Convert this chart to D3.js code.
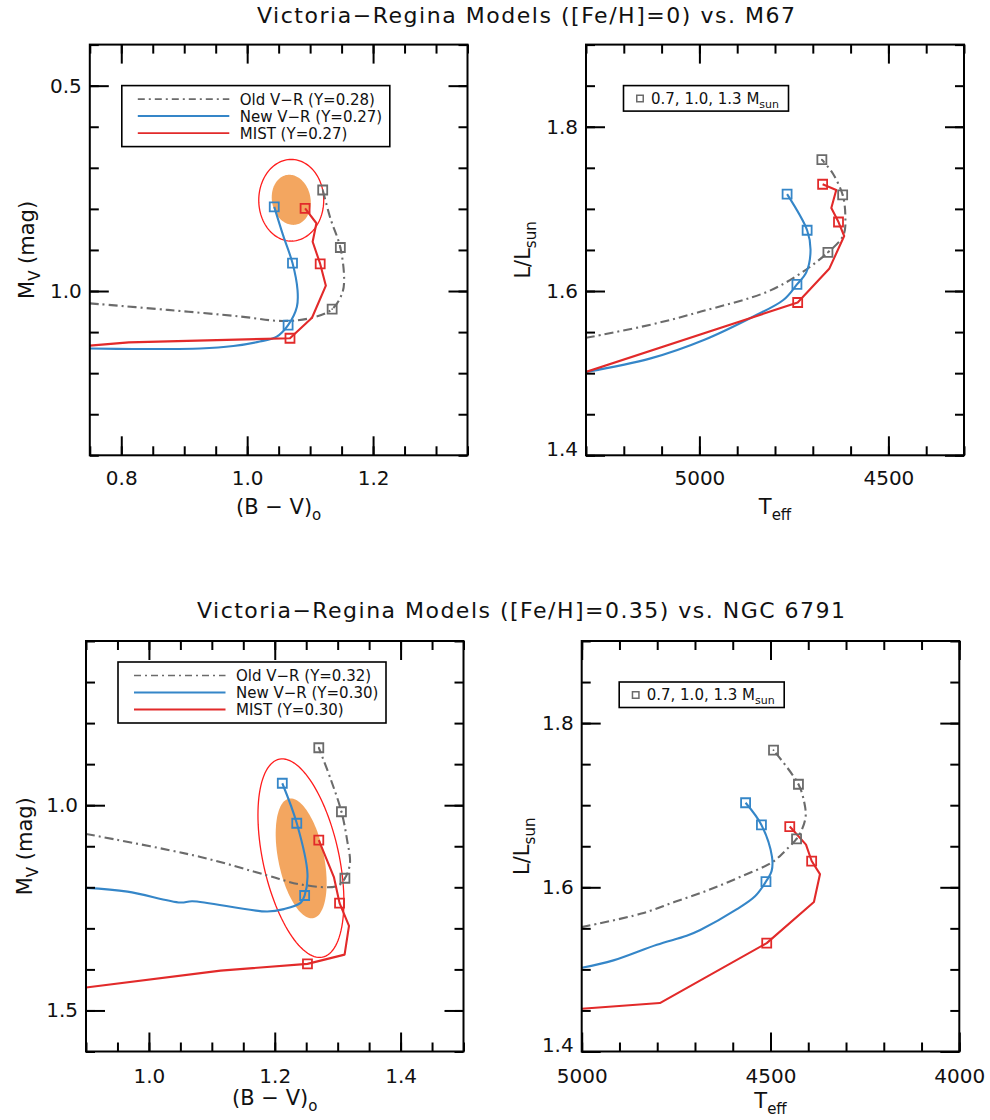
<!DOCTYPE html>
<html><head><meta charset="utf-8">
<script src="https://cdn.jsdelivr.net/npm/d3@7"></script>
<style>
body{margin:0;background:#fff}
svg{display:block}
text{font-family:"DejaVu Sans",sans-serif;fill:#111}
</style>
</head><body>
<svg id="c" width="990" height="1120"></svg>
<script>
// ---------------- DATA ----------------
const titles = ["Victoria\u2212Regina Models ([Fe/H]=0) vs. M67",
                "Victoria\u2212Regina Models ([Fe/H]=0.35) vs. NGC 6791"];
const legendTop = ["Old V\u2212R (Y=0.28)", "New V\u2212R (Y=0.27)", "MIST (Y=0.27)"];
const legendBot = ["Old V\u2212R (Y=0.32)", "New V\u2212R (Y=0.30)", "MIST (Y=0.30)"];
const massLegend = "0.7, 1.0, 1.3 M";

// Top-left: (B-V)0 vs Mv, [Fe/H]=0
const tlOld  = [[0.75,1.030],[0.874,1.046],[0.989,1.062],[1.057,1.073],[1.103,1.065],[1.135,1.044],[1.151,1.005],[1.154,0.973],[1.148,0.894],[1.132,0.822],[1.120,0.754]];
const tlOldMk = [[1.120,0.754],[1.148,0.894],[1.135,1.044]];
const tlNew  = [[0.75,1.140],[0.819,1.141],[0.925,1.140],[0.978,1.134],[1.020,1.123],[1.047,1.111],[1.065,1.083],[1.079,1.038],[1.080,0.998],[1.072,0.932],[1.057,0.864],[1.043,0.795]];
const tlNewMk = [[1.043,0.795],[1.072,0.932],[1.065,1.083]];
const tlMist = [[0.75,1.133],[0.812,1.125],[1.068,1.115],[1.103,1.065],[1.125,0.987],[1.116,0.934],[1.104,0.880],[1.110,0.835],[1.092,0.799]];
const tlMistMk = [[1.092,0.799],[1.116,0.934],[1.068,1.115]];
// observed clump: [centre x, centre y, half-width x, half-height y, correlation]
const tlClump1 = [1.070, 0.778, 0.031, 0.061, 0.1];
const tlClump2 = [1.070, 0.779, 0.0516, 0.0994, 0.0];

// Top-right: Teff vs L/Lsun, [Fe/H]=0
const trOld  = [[5300,1.543],[5129,1.559],[4996,1.575],[4821,1.599],[4734,1.621],[4660,1.647],[4619,1.668],[4614,1.692],[4621,1.717],[4647,1.743],[4676,1.760]];
const trOldMk = [[4676,1.760],[4621,1.717],[4660,1.647]];
const trNew  = [[5300,1.5015],[5129,1.518],[4985,1.541],[4857,1.569],[4778,1.589],[4742,1.608],[4717,1.623],[4706,1.650],[4715,1.674],[4768,1.718]];
const trNewMk = [[4768,1.718],[4715,1.674],[4742,1.608]];
const trMist = [[5300,1.5015],[4740,1.586],[4656,1.6275],[4617,1.667],[4632,1.684],[4651,1.701],[4638,1.723],[4674,1.730]];
const trMistMk = [[4674,1.730],[4632,1.684],[4740,1.586]];

// Bottom-left: (B-V)0 vs Mv, [Fe/H]=0.35
const blOld  = [[0.9,1.070],[1.082,1.126],[1.188,1.171],[1.241,1.193],[1.299,1.197],[1.3115,1.178],[1.3195,1.142],[1.315,1.085],[1.306,1.016],[1.289,0.937],[1.270,0.860]];
const blOldMk = [[1.270,0.860],[1.306,1.016],[1.3115,1.178]];
const blNew  = [[0.9,1.2015],[0.966,1.2105],[1.050,1.237],[1.069,1.234],[1.188,1.259],[1.215,1.253],[1.241,1.238],[1.2475,1.220],[1.252,1.167],[1.235,1.044],[1.212,0.9465]];
const blNewMk = [[1.212,0.9465],[1.235,1.044],[1.2475,1.220]];
const blMist = [[0.9,1.444],[1.114,1.403],[1.252,1.3865],[1.311,1.364],[1.318,1.294],[1.303,1.2385],[1.294,1.175],[1.270,1.085]];
const blMistMk = [[1.270,1.085],[1.303,1.2385],[1.252,1.3865]];
const blClump1 = [1.242, 1.1295, 0.0405, 0.146, 0.41];
const blClump2 = [1.2416, 1.129, 0.0683, 0.2418, 0.434];

// Bottom-right: Teff vs L/Lsun, [Fe/H]=0.35
const brOld  = [[5000,1.5515],[4842,1.568],[4755,1.582],[4668,1.596],[4581,1.6125],[4494,1.631],[4460,1.645],[4431,1.659],[4418,1.669],[4407,1.686],[4410,1.702],[4426,1.7255],[4492,1.767]];
const brOldMk = [[4492,1.767],[4426,1.7255],[4431,1.659]];
const brNew  = [[5000,1.502],[4916,1.511],[4801,1.530],[4722,1.541],[4686,1.548],[4590,1.573],[4541,1.589],[4512,1.607],[4497,1.620],[4496,1.637],[4524,1.676],[4566,1.703]];
const brNewMk = [[4566,1.703],[4524,1.676],[4512,1.607]];
const brMist = [[5000,1.452],[4793,1.459],[4510,1.532],[4385,1.582],[4369,1.616],[4391,1.632],[4406,1.652],[4449,1.674]];
const brMistMk = [[4449,1.674],[4391,1.632],[4510,1.532]];

// axis ticks
const cmdTopXMajor = [0.8, 1.0, 1.2];
const cmdTopXMinor = d3.range(0.75, 1.351, 0.05);
const cmdTopYMajor = [0.5, 1.0];
const cmdTopYMinor = d3.range(0.4, 1.41, 0.1);
const cmdBotXMajor = [1.0, 1.2, 1.4];
const cmdBotXMinor = d3.range(0.9, 1.501, 0.05);
const cmdBotYMajor = [1.0, 1.5];
const cmdBotYMinor = d3.range(0.6, 1.61, 0.1);
const hrdTopXMajor = [5000, 4500];
const hrdTopXMinor = d3.range(5300, 4299, -100);
const hrdBotXMajor = [5000, 4500, 4000];
const hrdBotXMinor = d3.range(5000, 3999, -100);
const hrdYMajor = [1.4, 1.6, 1.8];
const hrdYMinor = d3.range(1.4, 1.91, 0.05);

// ---------------- STYLE ----------------
const C_OLD = "#6b6b6b", C_NEW = "#3586c8", C_MIST = "#e22a2a", C_FILL = "#f3a660", C_SIG = "#ff1c1c";
const svg = d3.select("#c");
const defs = svg.append("defs");

function panel(p) {
  const g = svg.append("g");
  const x = d3.scaleLinear().domain(p.xDom).range([p.x0, p.x1]);
  const y = d3.scaleLinear().domain(p.yDom).range([p.y0, p.y1]);
  const cid = "clip" + p.id;
  defs.append("clipPath").attr("id", cid).append("rect")
    .attr("x", p.x0).attr("y", p.y0).attr("width", p.x1 - p.x0).attr("height", p.y1 - p.y0);
  const plot = g.append("g").attr("clip-path", `url(#${cid})`);
  const line = d3.line().x(d => x(d[0])).y(d => y(d[1]));

  if (p.clumps) {
    const ell = e => d3.range(0, 360, 3).map(a => {
      const t = a * Math.PI / 180;
      return [e[0] + e[2] * Math.cos(t), e[1] + e[3] * (e[4] * Math.cos(t) + Math.sqrt(1 - e[4] * e[4]) * Math.sin(t))];
    });
    plot.append("path").attr("d", line.curve(d3.curveLinearClosed)(ell(p.clumps[0])))
      .attr("fill", C_FILL).attr("stroke", "none");
    plot.append("path").attr("d", line.curve(d3.curveLinearClosed)(ell(p.clumps[1])))
      .attr("fill", "none").attr("stroke", C_SIG).attr("stroke-width", 1.3);
  }
  const series = [
    {pts: p.old, mk: p.oldMk, c: C_OLD, dash: "9,4,2,4", smooth: true},
    {pts: p.nw, mk: p.nwMk, c: C_NEW, dash: null, smooth: true},
    {pts: p.mist, mk: p.mistMk, c: C_MIST, dash: null, smooth: false}
  ];
  series.forEach(s => {
    plot.append("path")
      .attr("d", line.curve(s.smooth ? d3.curveCatmullRom.alpha(0.5) : d3.curveLinear)(s.pts))
      .attr("fill", "none").attr("stroke", s.c).attr("stroke-width", 2.1)
      .attr("stroke-dasharray", s.dash).attr("stroke-linejoin", "round");
  });
  series.forEach(s => {
    plot.selectAll(null).data(s.mk).join("path")
      .attr("transform", d => `translate(${x(d[0])},${y(d[1])})`)
      .attr("d", d3.symbol(d3.symbolSquare, 81)())
      .attr("fill", "none").attr("stroke", s.c).attr("stroke-width", 1.8);
    if (s.c === C_OLD) {
      plot.selectAll(null).data(s.mk).join("circle")
        .attr("cx", d => x(d[0])).attr("cy", d => y(d[1])).attr("r", 0.9).attr("fill", s.c);
    }
  });

  // axes
  const yEnd = p.yDom[1];
  const axes = [
    [d3.axisBottom(x).tickValues(p.xMajor).tickSize(-19).tickPadding(p.xPad).tickFormat(p.xFmt), `translate(0,${p.y1})`, "x"],
    [d3.axisBottom(x).tickValues(p.xMinor).tickSize(-9).tickFormat(""), `translate(0,${p.y1})`, ""],
    [d3.axisTop(x).tickValues(p.xMajor).tickSize(-19).tickFormat(""), `translate(0,${p.y0})`, ""],
    [d3.axisTop(x).tickValues(p.xMinor).tickSize(-9).tickFormat(""), `translate(0,${p.y0})`, ""],
    [d3.axisLeft(y).tickValues(p.yMajor).tickSize(-19).tickPadding(8).tickFormat(d3.format(".1f")), `translate(${p.x0},0)`, "y"],
    [d3.axisLeft(y).tickValues(p.yMinor).tickSize(-9).tickFormat(""), `translate(${p.x0},0)`, ""],
    [d3.axisRight(y).tickValues(p.yMajor).tickSize(-19).tickFormat(""), `translate(${p.x1},0)`, ""],
    [d3.axisRight(y).tickValues(p.yMinor).tickSize(-9).tickFormat(""), `translate(${p.x1},0)`, ""]
  ];
  axes.forEach(([ax, tr, kind]) => {
    const a = g.append("g").attr("transform", tr).call(ax.tickSizeOuter(0));
    a.select(".domain").remove();
    a.selectAll("line").attr("stroke", "#000").attr("stroke-width", 2);
    a.selectAll("text").attr("font-size", 20).attr("font-family", "DejaVu Sans").attr("fill", "#111");
    if (kind === "y") {
      // label at the bottom edge sits a little above its tick
      a.selectAll(".tick text").filter(d => Math.abs(d - yEnd) < 1e-9).attr("dy", "0.0em");
    }
  });
  g.append("rect").attr("x", p.x0).attr("y", p.y0).attr("width", p.x1 - p.x0).attr("height", p.y1 - p.y0)
    .attr("fill", "none").attr("stroke", "#000").attr("stroke-width", 2);

  // axis titles
  const xt = g.append("text").attr("x", (p.x0 + p.x1) / 2).attr("y", p.xTitleY)
    .attr("text-anchor", "middle").attr("font-size", 21);
  xt.append("tspan").text(p.xTitle[0]);
  xt.append("tspan").text(p.xTitle[1]).attr("font-size", 15).attr("dy", 6);
  const yt = g.append("text").attr("transform", `translate(${p.yTitleX},${(p.y0 + p.y1) / 2}) rotate(-90)`)
    .attr("text-anchor", "middle").attr("font-size", 21);
  yt.append("tspan").text(p.yTitle[0]);
  yt.append("tspan").text(p.yTitle[1]).attr("font-size", 15).attr("dy", 6);
  if (p.yTitle[2]) yt.append("tspan").text(p.yTitle[2]).attr("dy", -6);

  // legends
  if (p.legend) {
    const L = p.legend;
    g.append("rect").attr("x", p.x0 + 32).attr("y", p.y0 + L.dy).attr("width", 268).attr("height", 61)
      .attr("fill", "#fff").attr("stroke", "#000").attr("stroke-width", 1.6);
    const cols = [[C_OLD, "7,4,2,4", 1.6], [C_NEW, null, 2], [C_MIST, null, 1.8]];
    L.labels.forEach((lab, i) => {
      const yy = p.y0 + L.dy + 13.5 + i * 17;
      g.append("line").attr("x1", p.x0 + 48).attr("x2", p.x0 + 139.5).attr("y1", yy).attr("y2", yy)
        .attr("stroke", cols[i][0]).attr("stroke-width", cols[i][2]).attr("stroke-dasharray", cols[i][1]);
      g.append("text").attr("x", p.x0 + 150).attr("y", yy).attr("dy", "0.36em")
        .attr("font-size", 15).text(lab);
    });
  }
  if (p.mass) {
    const bx = p.x0 + 37.5, by = p.y0 + 41;
    g.append("rect").attr("x", bx).attr("y", by).attr("width", 165).attr("height", 25.5)
      .attr("fill", "#fff").attr("stroke", "#000").attr("stroke-width", 1.6);
    g.append("path").attr("transform", `translate(${bx + 16.5},${by + 13})`)
      .attr("d", d3.symbol(d3.symbolSquare, 42)()).attr("fill", "none").attr("stroke", C_OLD).attr("stroke-width", 1.5);
    const t = g.append("text").attr("x", bx + 27.5).attr("y", by + 13).attr("dy", "0.36em").attr("font-size", 15);
    t.append("tspan").text(massLegend);
    t.append("tspan").text("sun").attr("font-size", 11).attr("dy", 4);
  }
}

// ---------------- PANELS ----------------
panel({id: "tl", x0: 89.8, x1: 467.5, y0: 44.6, y1: 455.3, xDom: [0.75, 1.35], yDom: [0.4, 1.4],
  xMajor: cmdTopXMajor, xMinor: cmdTopXMinor, yMajor: cmdTopYMajor, yMinor: cmdTopYMinor,
  xFmt: d3.format(".1f"), xPad: 16, xTitle: ["(B \u2212 V)", "o"], xTitleY: 514, yTitle: ["M", "V", " (mag)"], yTitleX: 34,
  old: tlOld, oldMk: tlOldMk, nw: tlNew, nwMk: tlNewMk, mist: tlMist, mistMk: tlMistMk,
  clumps: [tlClump1, tlClump2], legend: {labels: legendTop, dy: 41}});
panel({id: "tr", x0: 586, x1: 964, y0: 44.6, y1: 455.3, xDom: [5300, 4300], yDom: [1.9, 1.4],
  xMajor: hrdTopXMajor, xMinor: hrdTopXMinor, yMajor: hrdYMajor, yMinor: hrdYMinor,
  xFmt: d3.format("d"), xPad: 16, xTitle: ["T", "eff"], xTitleY: 514, yTitle: ["L/L", "sun"], yTitleX: 530,
  old: trOld, oldMk: trOldMk, nw: trNew, nwMk: trNewMk, mist: trMist, mistMk: trMistMk, mass: true});
panel({id: "bl", x0: 86, x1: 463.5, y0: 641, y1: 1051.5, xDom: [0.9, 1.5], yDom: [0.6, 1.6],
  xMajor: cmdBotXMajor, xMinor: cmdBotXMinor, yMajor: cmdBotYMajor, yMinor: cmdBotYMinor,
  xFmt: d3.format(".1f"), xPad: 17, xTitle: ["(B \u2212 V)", "o"], xTitleY: 1105, yTitle: ["M", "V", " (mag)"], yTitleX: 32,
  old: blOld, oldMk: blOldMk, nw: blNew, nwMk: blNewMk, mist: blMist, mistMk: blMistMk,
  clumps: [blClump1, blClump2], legend: {labels: legendBot, dy: 21}});
panel({id: "br", x0: 581.7, x1: 959.3, y0: 641, y1: 1051.5, xDom: [5000, 4000], yDom: [1.9, 1.4],
  xMajor: hrdBotXMajor, xMinor: hrdBotXMinor, yMajor: hrdYMajor, yMinor: hrdYMinor,
  xFmt: d3.format("d"), xPad: 17, xTitle: ["T", "eff"], xTitleY: 1108, yTitle: ["L/L", "sun"], yTitleX: 529,
  old: brOld, oldMk: brOldMk, nw: brNew, nwMk: brNewMk, mist: brMist, mistMk: brMistMk, mass: true});

svg.append("text").attr("x", 526).attr("y", 23).attr("text-anchor", "middle").attr("font-size", 22)
  .attr("textLength", 538).attr("lengthAdjust", "spacing").text(titles[0]);
svg.append("text").attr("x", 521).attr("y", 618).attr("text-anchor", "middle").attr("font-size", 22)
  .attr("textLength", 648).attr("lengthAdjust", "spacing").text(titles[1]);
</script>
</body></html>
